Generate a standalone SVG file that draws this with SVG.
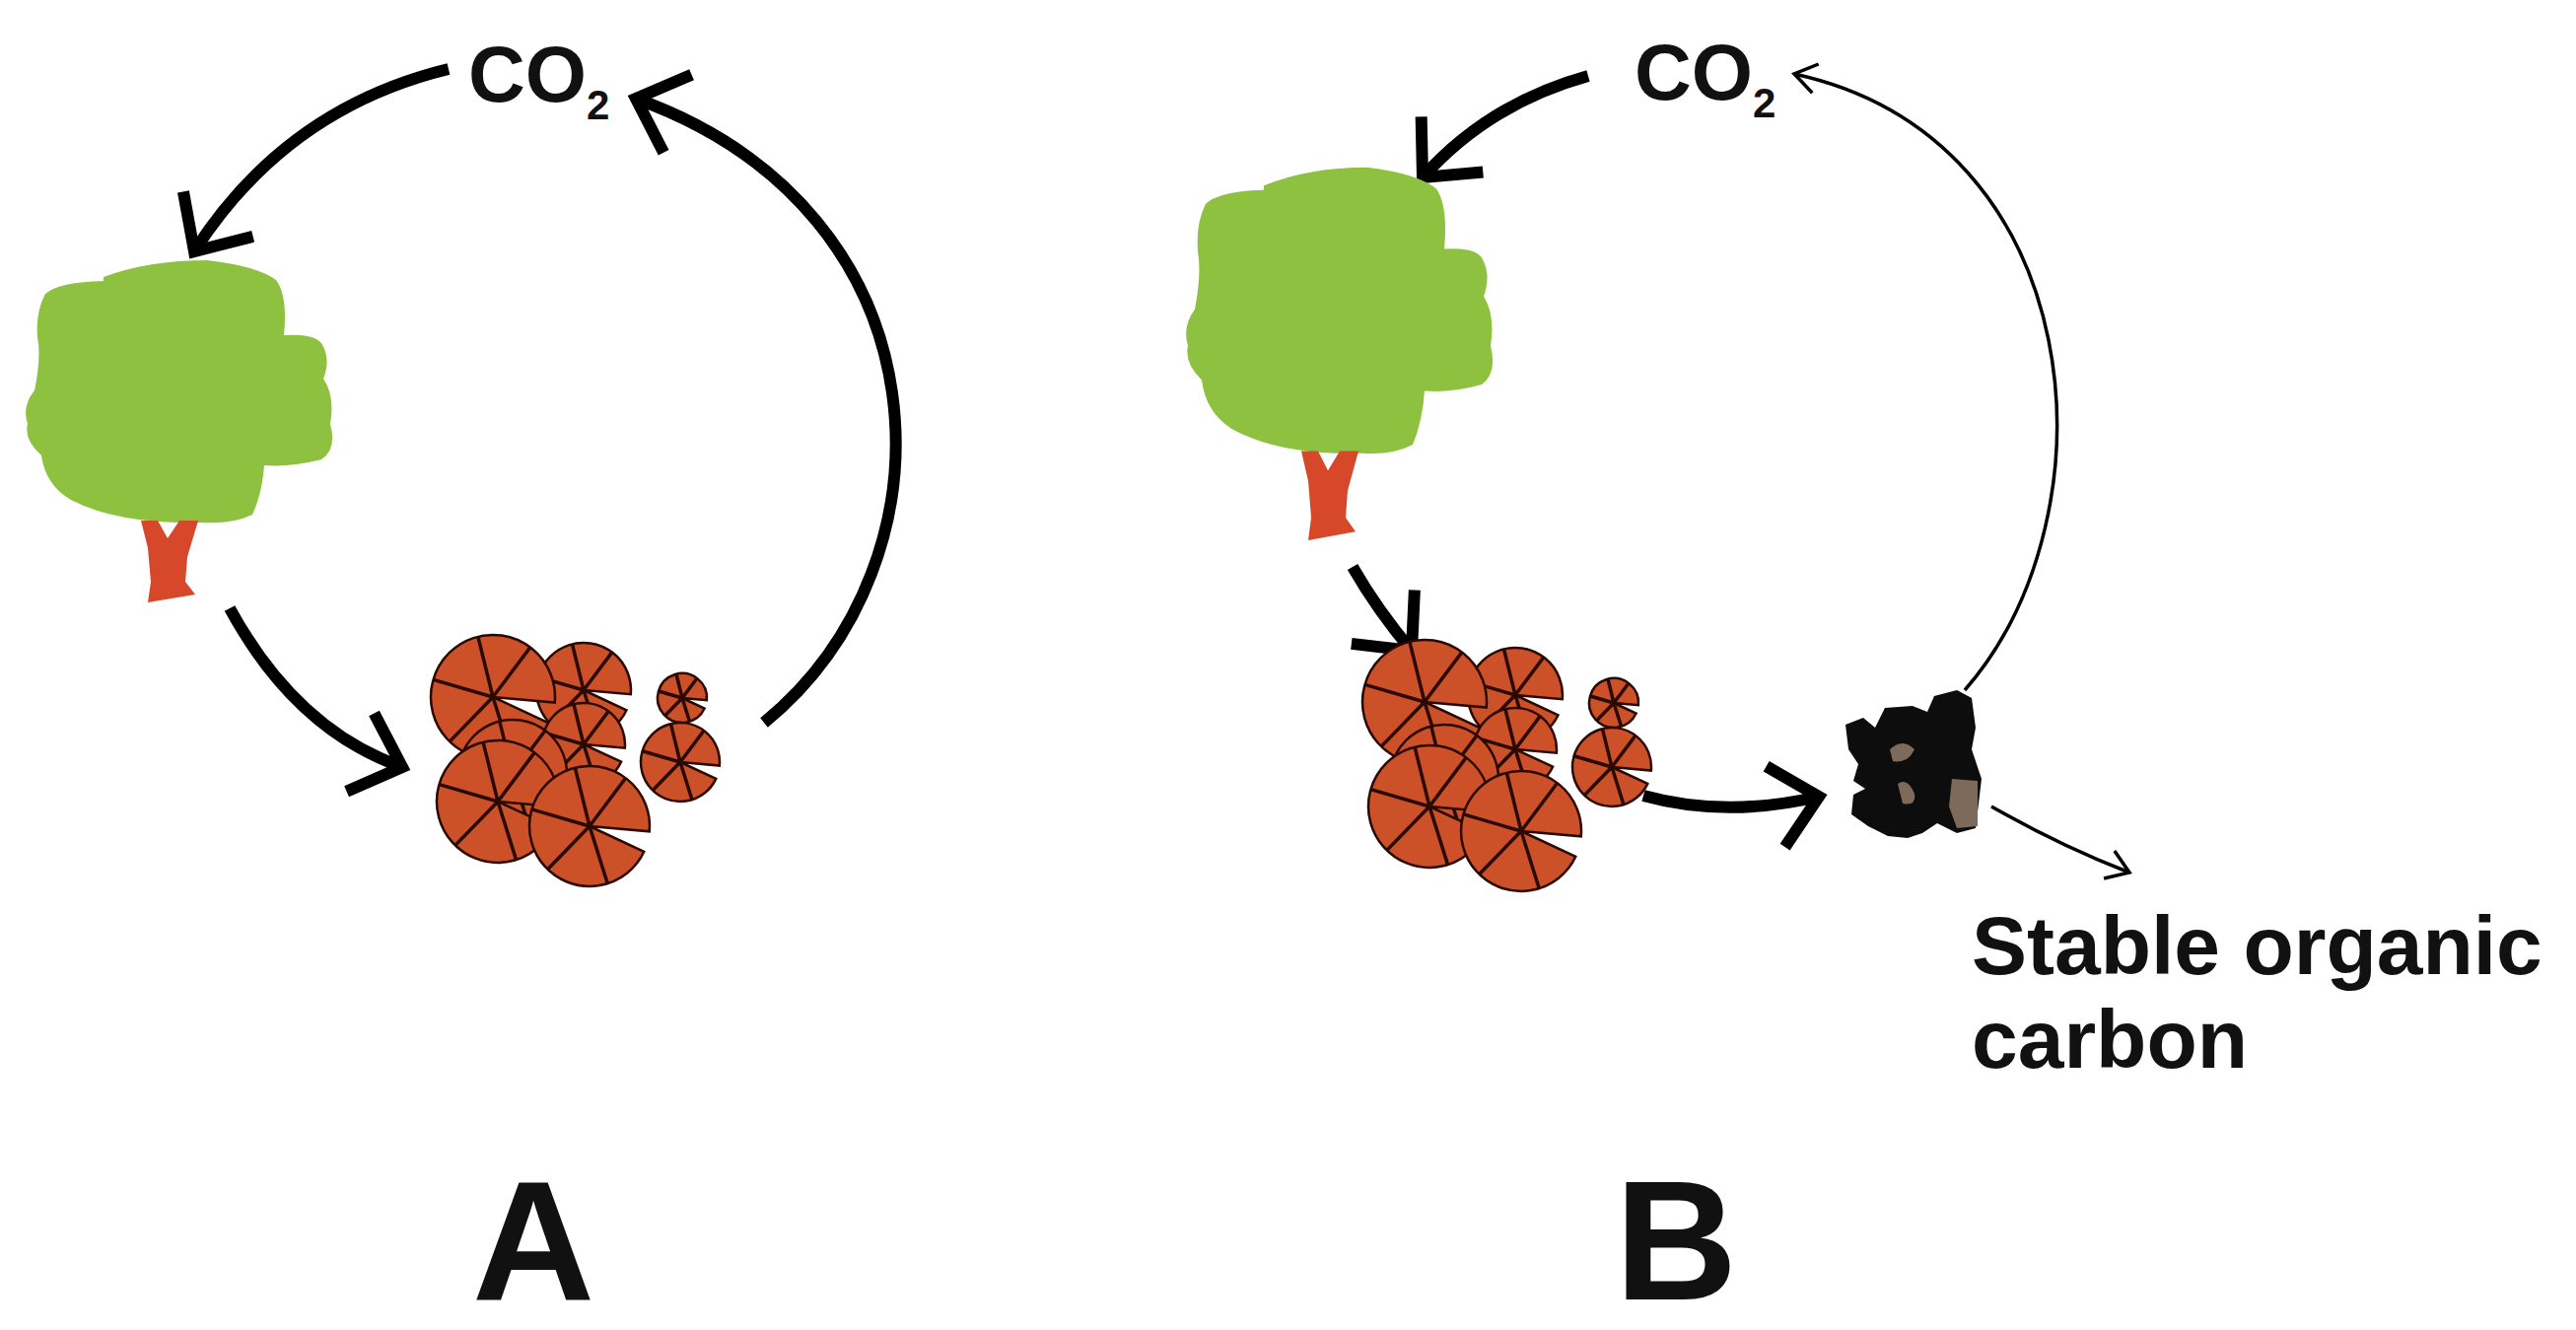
<svg xmlns="http://www.w3.org/2000/svg" xmlns:xlink="http://www.w3.org/1999/xlink" width="2613" height="1349" viewBox="0 0 2613 1349">
<style>
.t{font-family:"Liberation Sans",Arial,sans-serif;font-weight:bold;fill:#111}
.thick{fill:none;stroke:#000;stroke-width:12;stroke-linecap:butt}
.thin{fill:none;stroke:#000;stroke-width:3.5}
.log{fill:#CC5028;stroke:#2a0a00;stroke-width:2.5}
.sp{stroke:#2a0a00;stroke-width:3.5}
.leaf{fill:#8DC13F}
.trunk{fill:#D7472A}
</style>
<defs>
<marker id="hk" viewBox="-60 -60 70 120" markerWidth="70" markerHeight="120" refX="0" refY="0" orient="auto" markerUnits="userSpaceOnUse">
<path d="M-45,-42 L0,0 L-45,42" fill="none" stroke="#000" stroke-width="12"/>
</marker>
<marker id="hn" viewBox="-30 -25 36 50" markerWidth="36" markerHeight="50" refX="0" refY="0" orient="auto" markerUnits="userSpaceOnUse">
<path d="M-22,-15 L0,0 L-22,15" fill="none" stroke="#000" stroke-width="3.5"/>
</marker>
<g id="logu">
<path class="log" d="M0,0 L45.3,21.1 A50,50 0 1,1 49.8,4.4 Z" vector-effect="non-scaling-stroke"/>
<path class="sp" d="M0,0 L15,47.7 M0,0 L-35,36 M0,0 L-48,-14 M0,0 L-12,-48.5 M0,0 L30,-40" vector-effect="non-scaling-stroke"/>
</g>
<g id="pile">
<use xlink:href="#logu" transform="translate(592,700) scale(0.96)"/>
<use xlink:href="#logu" transform="translate(692,708) scale(0.5)"/>
<use xlink:href="#logu" transform="translate(500,707) scale(1.26)"/>
<use xlink:href="#logu" transform="translate(592,755) scale(0.84)"/>
<use xlink:href="#logu" transform="translate(690,773) scale(0.8)"/>
<use xlink:href="#logu" transform="translate(520,785) scale(1.1)"/>
<use xlink:href="#logu" transform="translate(505,813) scale(1.24)"/>
<use xlink:href="#logu" transform="translate(598,838) scale(1.22)"/>
</g>
<g id="tree">
<path class="leaf" d="M105,281 Q150,264 210,264 Q262,270 280,284 Q292,300 288,340 Q318,338 326,348 Q336,364 328,384 Q340,402 335,430 Q342,456 326,466 Q295,474 268,472 Q266,500 256,522 Q235,532 205,530 Q120,532 72,507 Q46,492 42,462 Q24,446 28,430 Q22,412 35,396 Q42,362 38,342 Q36,316 46,298 Q60,286 105,285 Z"/>
<path class="trunk" d="M143,528 L160,528 L170,546 L182,528 L201,528 L190,565 L188,590 L198,603 L150,611 L153,590 L150,556 Z"/>
</g>
</defs>

<g id="connectors">
<path class="thick" d="M455,70 Q290,110 197,255" marker-end="url(#hk)"/>
<path class="thick" d="M775,733 C975,570 965,215 645,100" marker-end="url(#hk)"/>
<path class="thick" d="M233,617 Q300,740 408,778" marker-end="url(#hk)"/>
<path class="thick" d="M1611,77 Q1510,105 1443,180" marker-end="url(#hk)"/>
<path class="thick" d="M1372,575 Q1398,620 1432,660" marker-end="url(#hk)"/>
<path class="thick" d="M1667,807 Q1750,830 1845,808" marker-end="url(#hk)"/>
<path class="thin" d="M1993,700 C2150,520 2120,140 1820,75" marker-end="url(#hn)"/>
<path class="thin" d="M2020,818 Q2090,858 2160,885" marker-end="url(#hn)"/>
</g>

<g id="co2-a"><text class="t" x="475" y="103" font-size="80">CO<tspan font-size="42" dy="18">2</tspan></text></g>
<g id="tree-a"><use xlink:href="#tree"/></g>
<g id="pile-a"><use xlink:href="#pile"/></g>
<g id="label-a"><text class="t" x="541" y="1318" font-size="172" text-anchor="middle">A</text></g>

<g id="co2-b"><text class="t" x="1658" y="101" font-size="80">CO<tspan font-size="42" dy="18">2</tspan></text></g>
<g id="tree-b"><use xlink:href="#tree" transform="translate(1177,-118) scale(1,1.09)"/></g>
<g id="pile-b"><use xlink:href="#pile" transform="translate(945,5)"/></g>
<g id="char">
<path fill="#0d0d0d" d="M1872,735 L1890,728 L1902,738 L1912,718 L1940,716 L1955,722 L1962,706 L1985,700 L2000,708 L2004,738 L2000,760 L2010,790 L2004,840 L1985,845 L1965,835 L1950,845 L1935,850 L1915,848 L1895,838 L1878,826 L1880,806 L1892,800 L1880,792 L1885,775 L1875,760 Z"/>
<path fill="#7d6a5b" d="M1980,790 L2006,792 L2006,838 L1985,840 L1977,818 Z M1917,760 Q1930,748 1942,760 Q1935,775 1920,772 Z M1925,795 Q1935,788 1942,805 Q1944,818 1930,815 Z"/>
</g>
<g id="label-stable"><text class="t" x="2000" y="988" font-size="84">Stable organic</text><text class="t" x="2000" y="1083" font-size="84">carbon</text></g>
<g id="label-b"><text class="t" x="1700" y="1318" font-size="172" text-anchor="middle">B</text></g>
</svg>
